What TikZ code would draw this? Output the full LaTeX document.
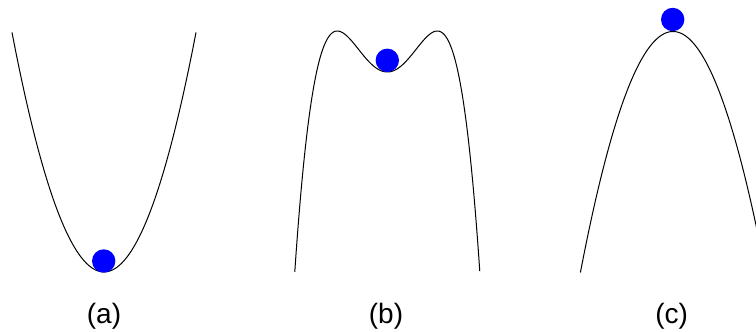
\documentclass[tikz,border=0pt]{standalone}
\usepackage{fontspec}
\setmainfont{Liberation Sans}
\begin{document}
\begin{tikzpicture}[x=1pt,y=-1pt,
  curve/.style={line width=1pt,black},
  ball/.style={circle,fill={rgb,255:red,0;green,0;blue,255},inner sep=0pt,minimum size=23.4pt},
  lbl/.style={anchor=base,inner sep=0pt,font=\fontsize{28}{31}\selectfont}]
\useasboundingbox (0,0) rectangle (756,332);
\clip (0,0) rectangle (756,332);
% (a) well
\draw[curve] plot[domain=-92:92,samples=120,smooth] ({104+\x},{272-0.0283*\x*\x});
\node[ball] (ba) at (103.7,261) {};
\node[lbl] (la) at (104,323.5) {(a)};
% (b) double hump
\draw[curve] plot[domain=-1.8505:1.8505,samples=160,smooth] ({387.3+50*\x},{272-(200+82*\x*\x-41*\x*\x*\x*\x)});
\node[ball] (bb) at (387.3,60.3) {};
\node[lbl] (lb) at (386,323.5) {(b)};
% (c) hill
\draw[curve] plot[domain=-92.6:84,samples=120,smooth] ({673+\x},{31.5+0.0281*\x*\x});
\node[ball] (bc) at (672.7,19.5) {};
\node[lbl] (lc) at (671.7,323.5) {(c)};
\end{tikzpicture}
\end{document}
